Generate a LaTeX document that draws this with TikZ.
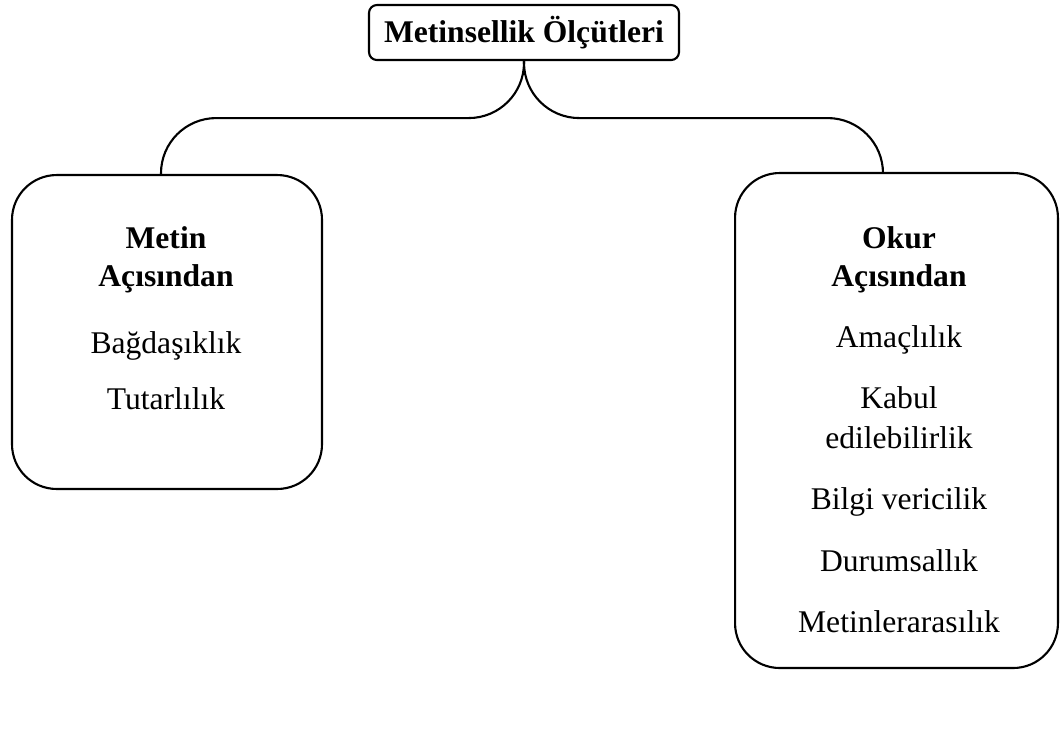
\documentclass[tikz,border=0pt]{standalone}
\usepackage{fontspec}
\setmainfont{Liberation Serif}
\usetikzlibrary{calc}

\begin{document}
\begin{tikzpicture}[%
        x=0.38pt, y=-0.38pt, line width=0.8pt,
        box/.style={draw, inner sep=0pt},
        title/.style={box, rounded corners=3pt, minimum width=117.8pt, minimum height=20.9pt,
            font=\fontsize{12}{14}\selectfont\bfseries},
        side/.style={box, rounded corners=17pt},
        head/.style={anchor=base, font=\fontsize{12}{14}\selectfont\bfseries},
        item/.style={anchor=base, font=\fontsize{12}{14}\selectfont},
        link/.style={rounded corners=21pt}
        ]
        \useasboundingbox (0,0) rectangle (1061,731);
        \node[title] (olc) at (524,32.5) {Metinsellik Ölçütleri};
        \node[side, minimum width=117.8pt, minimum height=119.3pt] (metin) at (167,332) {};
        \node[side, minimum width=122.7pt, minimum height=188.1pt] (okur) at (896.5,420.5) {};
        % metin acisindan
        \node[head] (m1) at (166,248) {Metin};
        \node[head] (m2) at (166,286) {Açısından};
        \node[item] (m3) at (166,353) {Bağdaşıklık};
        \node[item] (m4) at (166,409) {Tutarlılık};
        % okur acisindan
        \node[head] (o1) at (899,248) {Okur};
        \node[head] (o2) at (899,286) {Açısından};
        \node[item] (o3) at (899,347) {Amaçlılık};
        \node[item] (o4) at (899,408) {Kabul};
        \node[item] (o5) at (899,448) {edilebilirlik};
        \node[item] (o6) at (899,509) {Bilgi vericilik};
        \node[item] (o7) at (899,571) {Durumsallık};
        \node[item] (o8) at (899,632) {Metinlerarasılık};
        \draw[link] (olc.south) -- ++(0,57) -| ($(metin.north)+(-6,0)$);
        \draw[link] (olc.south) -- ++(0,57) -| ($(okur.north)+(-13.5,0)$);
    \end{tikzpicture}
\end{document}
